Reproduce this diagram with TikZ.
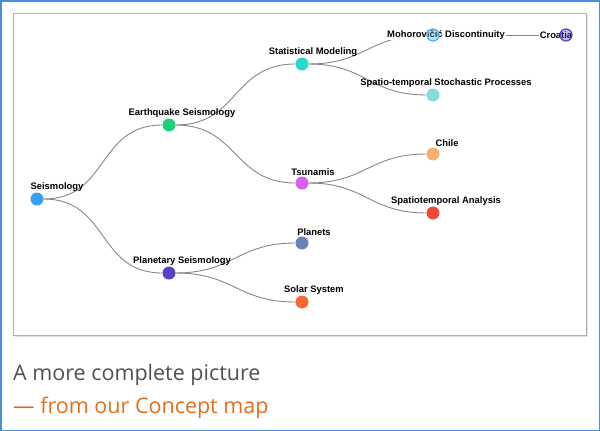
\documentclass[tikz,border=0pt]{standalone}
\usepackage{fontspec}
\setmainfont{Liberation Sans}
\newfontfamily\capfont{Open Sans}
\definecolor{framegray}{RGB}{176, 176, 176}
\definecolor{edgeblue}{RGB}{70, 145, 220}
\definecolor{linkgray}{RGB}{135, 135, 135}
\definecolor{seisblue}{RGB}{52, 162, 240}
\definecolor{eqgreen}{RGB}{30, 208, 122}
\definecolor{statteal}{RGB}{40, 216, 200}
\definecolor{mohoblue}{RGB}{70, 176, 240}
\definecolor{croapurple}{RGB}{80, 64, 192}
\definecolor{stochteal}{RGB}{128, 224, 216}
\definecolor{tsumagenta}{RGB}{216, 96, 240}
\definecolor{chileorange}{RGB}{248, 176, 112}
\definecolor{spatred}{RGB}{240, 72, 56}
\definecolor{planpurple}{RGB}{90, 64, 200}
\definecolor{planetsblue}{RGB}{106, 128, 184}
\definecolor{solarorange}{RGB}{248, 104, 48}
\definecolor{capgray}{RGB}{80, 80, 80}
\definecolor{caporange}{RGB}{224, 110, 30}
\usetikzlibrary{positioning, shadows, backgrounds}

\begin{document}
\begin{tikzpicture}[x=1pt, y=-1pt,
    dot/.style={circle, fill=#1, minimum size=13pt, inner sep=0pt},
    ring/.style={circle, draw=#1, line width=1.2pt, fill=#1, fill opacity=0.35, minimum size=12pt, inner sep=0pt},
    lbl/.style={font=\bfseries\fontsize{9.4}{10}\selectfont, inner sep=1pt},
    halo/.style={fill=white},
    link/.style={draw=linkgray, line width=0.9pt},
    branch/.style={out=0, in=180, looseness=1.2}]
  \useasboundingbox (0,0) rectangle (600,431);

  % Concepts
  \node[dot=seisblue] (seis) at (37,199) {};
  \node[lbl, above=0pt of seis, xshift=20pt] (seis-t) {Seismology};

  \node[dot=eqgreen] (eq) at (169,125) {};
  \node[lbl, above=0pt of eq, xshift=13pt] (eq-t) {Earthquake Seismology};

  \node[dot=planpurple] (plan) at (169,273) {};
  \node[lbl, above=0pt of plan, xshift=13pt] (plan-t) {Planetary Seismology};

  \node[dot=statteal] (stat) at (302,64) {};
  \node[lbl, above=0pt of stat, xshift=11pt] (stat-t) {Statistical Modeling};

  \node[dot=tsumagenta] (tsu) at (302,183) {};
  \node[lbl, above=0pt of tsu, xshift=11pt] (tsu-t) {Tsunamis};

  \node[dot=planetsblue] (planets) at (302,243) {};
  \node[lbl, above=0pt of planets, xshift=12pt] (planets-t) {Planets};

  \node[dot=solarorange] (solar) at (302,302) {};
  \node[lbl, above=0pt of solar, xshift=12pt] (solar-t) {Solar System};

  \node[lbl, halo] (moho-t) at (446,35) {Mohorovičić Discontinuity};
  \node[ring=mohoblue] (moho) at (433,35) {};

  \node[lbl, halo] (croa-t) at (556,35) {Croatia};
  \node[ring=croapurple] (croa) at (566,35) {};

  \node[dot=stochteal] (stoch) at (433,95) {};
  \node[lbl, above=0pt of stoch, xshift=13pt] (stoch-t) {Spatio-temporal Stochastic Processes};

  \node[dot=chileorange] (chile) at (433,154) {};
  \node[lbl, above=0pt of chile, xshift=14pt] (chile-t) {Chile};

  \node[dot=spatred] (spat) at (433,213) {};
  \node[lbl, above=0pt of spat, xshift=13pt] (spat-t) {Spatiotemporal Analysis};

  \begin{scope}[on background layer]
    % Frame
    \draw[edgeblue, line width=1.5pt] (0.75,0.75) rectangle (599.25,430.25);
    \draw[framegray, line width=1pt, fill=white, drop shadow={shadow xshift=1.5pt, shadow yshift=-1.5pt, opacity=0.25}] (13,13) rectangle (586,335);

    % Links
    \draw[link] (seis) to[branch] (eq);
    \draw[link] (seis) to[branch] (plan);
    \draw[link] (eq) to[branch] (stat);
    \draw[link] (eq) to[branch] (tsu);
    \draw[link] (plan) to[branch] (planets);
    \draw[link] (plan) to[branch] (solar);
    \draw[link] (stat) to[branch] (moho);
    \draw[link] (stat) to[branch] (stoch);
    \draw[link] (tsu) to[branch] (chile);
    \draw[link] (tsu) to[branch] (spat);
    \draw[link] (moho) -- (croa);
  \end{scope}

  % Caption
  \node[anchor=base west, inner sep=0pt, font=\capfont\fontsize{21.5}{26}\selectfont, text=capgray] (cap1) at (13,380) {A more complete picture};
  \node[anchor=base west, inner sep=0pt, font=\capfont\fontsize{21.5}{26}\selectfont, text=caporange] (cap2) at (13,413) {— from our Concept map};
\end{tikzpicture}
\end{document}
